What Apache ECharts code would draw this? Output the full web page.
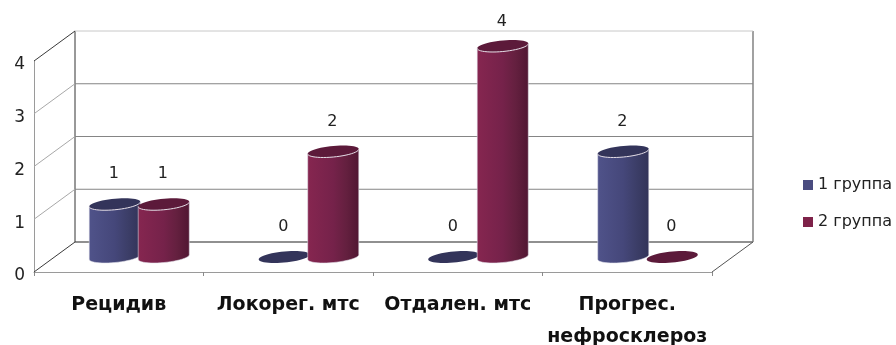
<!DOCTYPE html>
<html>
<head>
<meta charset="utf-8">
<style>html,body{margin:0;padding:0;background:#fff}#c{width:896px;height:345px}</style>
<script src="https://cdn.jsdelivr.net/npm/echarts@6/dist/echarts.min.js"></script>
</head>
<body>
<div id="c"></div>
<script>
// Case counts per outcome for the two patient groups
const categories = ['Рецидив', 'Локорег. мтс', 'Отдален. мтс', 'Прогрес.\nнефросклероз'];
const group1 = [1, 0, 0, 2];
const group2 = [1, 2, 4, 0];
const yTicks = [0, 1, 2, 3, 4];

const FONT = '"DejaVu Sans", sans-serif';
// Oblique projection: how far the back wall is shifted from the front plane
const DEPTH_X = 41, DEPTH_Y = -30;
// Cylinder geometry in pixels
const RX = 23.5, RY = 6, SKEW = 10, GAP = 24.5;

function ellipsePoint(cx, cy, t) {
  return [cx + RX * Math.cos(t) + SKEW * Math.sin(t), cy - RY * Math.sin(t)];
}
function arc(cx, cy, from, to, n) {
  const pts = [];
  for (let i = 0; i <= n; i++) pts.push(ellipsePoint(cx, cy, from + (to - from) * i / n));
  return pts;
}

// Walls, floor and gridlines of the 3D box, one item per value tick
function renderWalls(params, api) {
  const v = api.value(0);
  const cs = params.coordSys;
  const y = api.coord([0, v])[1];
  const left = cs.x, right = cs.x + cs.width;
  const children = [];
  const line = (x1, y1, x2, y2, stroke, w) => children.push({
    type: 'line', silent: true,
    shape: { x1, y1, x2, y2 },
    style: { stroke, lineWidth: w || 1 }
  });
  const edge = v === 0 || v === 4;
  line(left, y, left + DEPTH_X, y + DEPTH_Y, edge ? '#3a3a3a' : '#a8a8a8');
  line(left + DEPTH_X, y + DEPTH_Y, right + DEPTH_X, y + DEPTH_Y,
    v === 0 ? '#222222' : v === 4 ? '#c8c8c8' : '#858585', v === 0 ? 1.2 : 1);
  if (v === 0) {
    const top = api.coord([0, 4])[1];
    line(right, y, right + DEPTH_X, y + DEPTH_Y, '#555555');
    line(left + DEPTH_X, y + DEPTH_Y, left + DEPTH_X, top + DEPTH_Y, '#333333');
    line(right + DEPTH_X, y + DEPTH_Y, right + DEPTH_X, top + DEPTH_Y, '#7a7a7a', 1.4);
  }
  return { type: 'group', children };
}

function cylinderRenderer(side, stops, topColor) {
  return function (params, api) {
    const cat = api.value(0), v = api.value(1);
    const base = api.coord([cat, 0]);
    const top = api.coord([cat, v]);
    const cx = base[0] + side * GAP + DEPTH_X / 2;
    const yBottom = base[1] + DEPTH_Y / 2;
    const yTop = top[1] + DEPTH_Y / 2;
    const t0 = Math.atan2(SKEW, RX);
    const children = [];
    if (v > 0) {
      const body = arc(cx, yBottom, t0 + Math.PI, t0 + 2 * Math.PI, 24)
        .concat([ellipsePoint(cx, yTop, t0), ellipsePoint(cx, yTop, t0 + Math.PI)]);
      children.push({
        type: 'polygon', silent: true,
        shape: { points: body },
        style: {
          fill: { type: 'linear', x: 0, y: 0, x2: 1, y2: 0, colorStops: stops },
          stroke: 'rgba(225,225,235,0.55)', lineWidth: 1
        }
      });
    }
    children.push({
      type: 'polygon', silent: true,
      shape: { points: arc(cx, yTop, 0, 2 * Math.PI, 48) },
      style: { fill: topColor }
    });
    if (v > 0) {
      children.push({
        type: 'polyline', silent: true,
        shape: { points: arc(cx, yTop, t0 + Math.PI, t0 + 2 * Math.PI, 24) },
        style: { stroke: '#e6dfe8', lineWidth: 1, fill: null }
      });
    }
    children.push({
      type: 'text', silent: true,
      style: {
        x: cx - 1, y: Math.max(22, yTop - 30),
        text: String(v), align: 'center', verticalAlign: 'middle',
        font: '16px ' + FONT, fill: '#222222'
      }
    });
    return { type: 'group', children };
  };
}

const blueStops = [
  { offset: 0, color: '#50538a' }, { offset: 0.5, color: '#45477a' },
  { offset: 0.75, color: '#3c3e68' }, { offset: 1, color: '#323358' }
];
const redStops = [
  { offset: 0, color: '#862650' }, { offset: 0.5, color: '#75224a' },
  { offset: 0.75, color: '#64203f' }, { offset: 1, color: '#501632' }
];

const chart = echarts.init(document.getElementById('c'), null, { renderer: 'canvas' });
chart.setOption({
  animation: false,
  backgroundColor: '#ffffff',
  grid: { left: 34, top: 61, width: 678, height: 211, outerBoundsMode: 'none' },
  legend: {
    left: 798, top: 172, orient: 'vertical', itemGap: 21,
    itemWidth: 10, itemHeight: 10, icon: 'rect',
    textStyle: { fontFamily: FONT, fontSize: 16, color: '#222222' },
    data: ['1 группа', '2 группа']
  },
  xAxis: {
    type: 'category', data: categories,
    axisLine: { lineStyle: { color: '#9a9a9a' } },
    axisTick: { show: true, length: 4, alignWithLabel: false, lineStyle: { color: '#8a8a8a' } },
    axisLabel: {
      interval: 0, margin: 17, lineHeight: 32, verticalAlign: 'top',
      fontFamily: FONT, fontSize: 19, fontWeight: 'bold', color: '#111111'
    },
    splitLine: { show: false }
  },
  yAxis: {
    type: 'value', min: 0, max: 4, interval: 1,
    axisLine: { show: true, lineStyle: { color: '#9a9a9a' } },
    axisTick: { show: false },
    axisLabel: { margin: 9, verticalAlign: 'top', lineHeight: 8, fontFamily: FONT, fontSize: 17, color: '#222222' },
    splitLine: { show: false }
  },
  series: [
    {
      type: 'custom', name: 'walls', z: 1, clip: false, silent: true,
      encode: { y: 0 }, renderItem: renderWalls, data: yTicks.map(v => [v])
    },
    {
      type: 'custom', name: '1 группа', z: 2, clip: false, silent: true,
      itemStyle: { color: '#4a4c80' },
      encode: { x: 0, y: 1 },
      renderItem: cylinderRenderer(-1, blueStops, '#33345a'),
      data: group1.map((v, i) => [i, v])
    },
    {
      type: 'custom', name: '2 группа', z: 3, clip: false, silent: true,
      itemStyle: { color: '#7e2249' },
      encode: { x: 0, y: 1 },
      renderItem: cylinderRenderer(1, redStops, '#5c1a3a'),
      data: group2.map((v, i) => [i, v])
    }
  ]
});
</script>
</body>
</html>
